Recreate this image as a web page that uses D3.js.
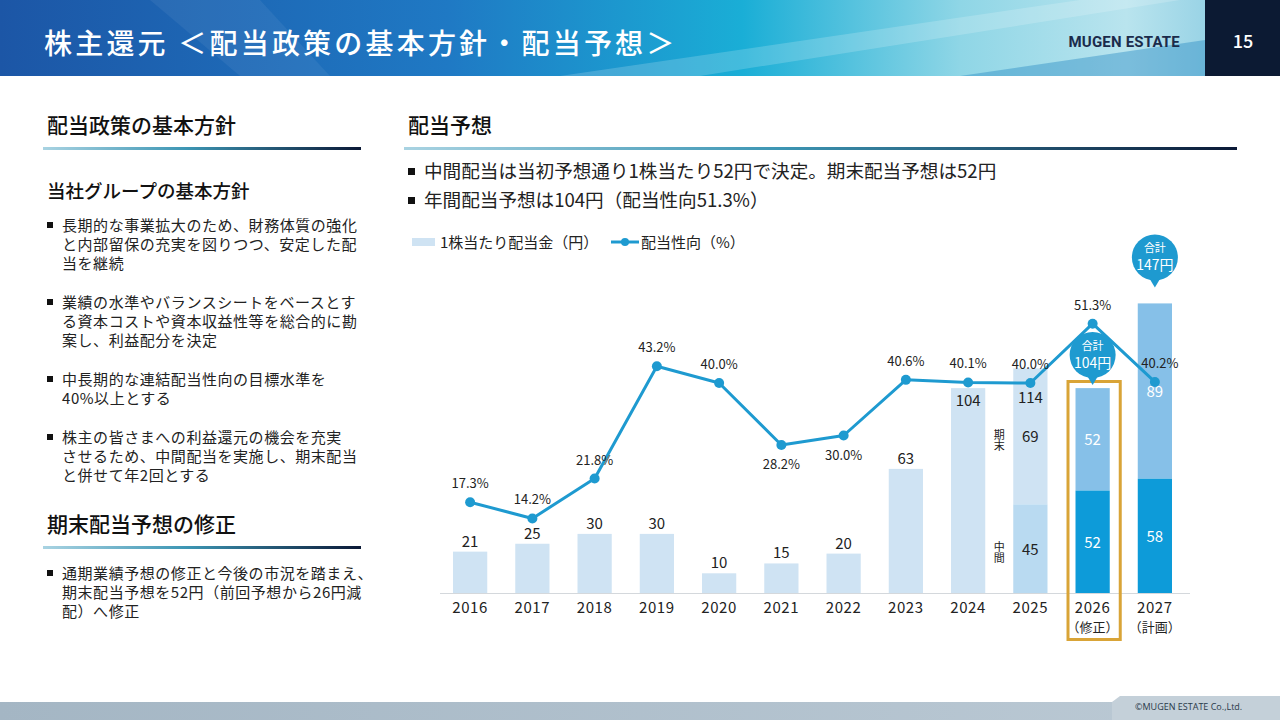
<!DOCTYPE html>
<html>
<head>
<meta charset="utf-8">
<script src="https://cdn.jsdelivr.net/npm/d3@7"></script>
<style>
  html, body { margin: 0; padding: 0; background: #fff; }
  svg { display: block; font-family: "Noto Sans CJK JP", "Noto Sans", sans-serif; }
</style>
</head>
<body>
<div id="slide"></div>
<script>
// chart data
var years = ['2016', '2017', '2018', '2019', '2020', '2021', '2022', '2023', '2024', '2025', '2026', '2027'];
var yearNotes = ['', '', '', '', '', '', '', '', '', '', '（修正）', '（計画）'];
var dividends = [21, 25, 30, 30, 10, 15, 20, 63, 104, 114, 104, 147];
var interims = [null, null, null, null, null, null, null, null, null, 45, 52, 58];
var payout = [17.3, 14.2, 21.8, 43.2, 40.0, 28.2, 30.0, 40.6, 40.1, 40.0, 51.3, 40.2];
var legendLabels = ['1株当たり配当金（円）', '配当性向（%）'];

var policyItems = [
  ['長期的な事業拡大のため、財務体質の強化', 'と内部留保の充実を図りつつ、安定した配', '当を継続'],
  ['業績の水準やバランスシートをベースとす', 'る資本コストや資本収益性等を総合的に勘', '案し、利益配分を決定'],
  ['中長期的な連結配当性向の目標水準を', '40%以上とする'],
  ['株主の皆さまへの利益還元の機会を充実', 'させるため、中間配当を実施し、期末配当', 'と併せて年2回とする']
];
var revisionItems = [['通期業績予想の修正と今後の市況を踏まえ、', '期末配当予想を52円（前回予想から26円減', '配）へ修正']];
var forecastItems = ['中間配当は当初予想通り1株当たり52円で決定。期末配当予想は52円', '年間配当予想は104円（配当性向51.3%）'];

var W = 1280, H = 720;
var svg = d3.select('#slide').append('svg').attr('width', W).attr('height', H);
var defs = svg.append('defs');

// ---- header ----
var hg = defs.append('linearGradient').attr('id', 'hdr').attr('x1', 0).attr('x2', 1).attr('y1', 0).attr('y2', 0);
hg.append('stop').attr('offset', '0%').attr('stop-color', '#1c56a6');
hg.append('stop').attr('offset', '35%').attr('stop-color', '#1f79c4');
hg.append('stop').attr('offset', '58%').attr('stop-color', '#1aaed6');
hg.append('stop').attr('offset', '75%').attr('stop-color', '#8fd6e6');
hg.append('stop').attr('offset', '88%').attr('stop-color', '#b9e4ee');
hg.append('stop').attr('offset', '100%').attr('stop-color', '#7cc4de');

var ulg = defs.append('linearGradient').attr('id', 'uline');
ulg.append('stop').attr('offset', '0%').attr('stop-color', '#a9d3e2');
ulg.append('stop').attr('offset', '45%').attr('stop-color', '#3d96b4');
ulg.append('stop').attr('offset', '100%').attr('stop-color', '#0b1936');

var ftg = defs.append('linearGradient').attr('id', 'foot');
ftg.append('stop').attr('offset', '0%').attr('stop-color', '#a4b6c4');
ftg.append('stop').attr('offset', '100%').attr('stop-color', '#bccad5');

svg.append('rect').attr('width', W).attr('height', 76).attr('fill', 'url(#hdr)');
// light streaks
svg.append('path').attr('d', 'M150,0 L260,0 L330,76 L240,76 Z').attr('fill', '#ffffff').attr('opacity', 0.06);
svg.append('path').attr('d', 'M560,76 L1080,0 L1180,0 L700,76 Z').attr('fill', '#ffffff').attr('opacity', 0.18);
svg.append('path').attr('d', 'M960,76 L1205,40 L1205,76 Z').attr('fill', '#2f8fc6').attr('opacity', 0.45);
svg.append('rect').attr('x', 1205).attr('width', 75).attr('height', 76).attr('fill', '#0c1a33');
svg.append('text').attr('x', 1243).attr('y', 48).attr('text-anchor', 'middle')
  .attr('fill', '#fff').attr('font-size', 18).attr('font-weight', 500).text('15');
svg.append('text').attr('x', 1180).attr('y', 47).attr('text-anchor', 'end')
  .attr('fill', '#1b2b4b').attr('font-size', 15).attr('font-weight', 700)
  .attr('font-family', 'Roboto, sans-serif').attr('letter-spacing', 0.2).text('MUGEN ESTATE');
svg.append('text').attr('x', 44).attr('y', 54).attr('fill', '#fff')
  .attr('font-size', 28).attr('font-weight', 500).attr('letter-spacing', 3.2)
  .text('株主還元 ＜配当政策の基本方針・配当予想＞');

// ---- footer ----
svg.append('rect').attr('y', 702).attr('width', W).attr('height', 18).attr('fill', 'url(#foot)');
svg.append('path').attr('d', 'M1112,702 L1120,696 L1280,696 L1280,720 L1112,720 Z').attr('fill', '#c4d0d9');
svg.append('text').attr('x', 1135).attr('y', 710).attr('fill', '#2a3a4a').attr('font-size', 9)
  .attr('font-family', '"Open Sans", sans-serif').text('©MUGEN ESTATE Co.,Ltd.');

// ---- section headings ----
function heading(x, y, x2, txt) {
  svg.append('text').attr('x', x).attr('y', y).attr('fill', '#111').attr('font-size', 21)
    .attr('font-weight', 500).text(txt);
  svg.append('rect').attr('x', x - 4).attr('y', y + 14).attr('width', x2 - x + 4).attr('height', 3)
    .attr('fill', 'url(#uline)');
}
heading(47, 133, 361, '配当政策の基本方針');
heading(408, 133, 1237, '配当予想');
heading(47, 532, 361, '期末配当予想の修正');

svg.append('text').attr('x', 47).attr('y', 198).attr('fill', '#111').attr('font-size', 18.5)
  .attr('font-weight', 500).text('当社グループの基本方針');

function bullets(items, x, y0, gap) {
  var y = y0;
  items.forEach(function(lines) {
    svg.append('rect').attr('x', x).attr('y', y - 9).attr('width', 6).attr('height', 6).attr('fill', '#111');
    lines.forEach(function(l, i) {
      svg.append('text').attr('x', x + 15).attr('y', y + i * 19).attr('fill', '#222')
        .attr('font-size', 15).attr('letter-spacing', 0.55).text(l);
    });
    y += lines.length * 19 + gap;
  });
}
bullets(policyItems, 47, 231, 20);
bullets(revisionItems, 47, 579, 20);

forecastItems.forEach(function(t, i) {
  var y = 178 + i * 29;
  svg.append('rect').attr('x', 408).attr('y', y - 10).attr('width', 7).attr('height', 7).attr('fill', '#111');
  svg.append('text').attr('x', 424).attr('y', y).attr('fill', '#222').attr('font-size', 18.6).text(t);
});

// ---- chart ----
var base = 593;
var x = d3.scaleBand().domain(years).range([439, 1186]).paddingInner(0.45).paddingOuter(0.225);
var yBar = d3.scaleLinear().domain([0, 150]).range([base, base - 295.5]);
var yPct = d3.scaleLinear().domain([0, 60]).range([base, base - 315]);
var bw = x.bandwidth();

var rows = years.map(function(yr, i) {
  return { year: yr, note: yearNotes[i], total: dividends[i], mid: interims[i], pct: payout[i], i: i };
});

var colPlain = '#cfe3f3', colMid25 = '#b9daf1', colEnd = '#86c0e8', colMid = '#0d9bd9';
var chart = svg.append('g');

// bars
rows.forEach(function(d) {
  var bx = x(d.year);
  if (d.mid == null) {
    chart.append('rect').attr('x', bx).attr('y', yBar(d.total)).attr('width', bw)
      .attr('height', base - yBar(d.total)).attr('fill', colPlain);
  } else {
    var forecast = d.i >= 10;
    chart.append('rect').attr('x', bx).attr('y', yBar(d.total)).attr('width', bw)
      .attr('height', yBar(d.mid) - yBar(d.total)).attr('fill', forecast ? colEnd : colPlain);
    chart.append('rect').attr('x', bx).attr('y', yBar(d.mid)).attr('width', bw)
      .attr('height', base - yBar(d.mid)).attr('fill', forecast ? colMid : colMid25);
  }
});

// baseline
chart.append('line').attr('x1', 440).attr('x2', 1190).attr('y1', base + 0.5).attr('y2', base + 0.5)
  .attr('stroke', '#d4d8dc').attr('stroke-width', 1);

// year labels
rows.forEach(function(d) {
  var cx = x(d.year) + bw / 2;
  chart.append('text').attr('x', cx).attr('y', 613).attr('text-anchor', 'middle')
    .attr('font-size', 15).attr('fill', '#222').attr('letter-spacing', 0.6).text(d.year);
  if (d.note) {
    chart.append('text').attr('x', cx).attr('y', 632).attr('text-anchor', 'middle')
      .attr('font-size', 13).attr('fill', '#222').text(d.note);
  }
});

// bar value labels
rows.forEach(function(d) {
  var cx = x(d.year) + bw / 2;
  if (d.mid == null) {
    var inside = d.total > 100;
    chart.append('text').attr('x', cx).attr('y', inside ? yBar(d.total) + 18 : yBar(d.total) - 5)
      .attr('text-anchor', 'middle').attr('font-size', 15).attr('fill', '#222').text(d.total);
  } else {
    var forecast = d.i >= 10;
    var c = forecast ? '#fff' : '#222';
    var endVal = d.total - d.mid;
    chart.append('text').attr('x', cx).attr('y', (yBar(d.total) + yBar(d.mid)) / 2 + 6)
      .attr('text-anchor', 'middle').attr('font-size', 15).attr('fill', c).text(endVal);
    chart.append('text').attr('x', cx).attr('y', (yBar(d.mid) + base) / 2 + 6)
      .attr('text-anchor', 'middle').attr('font-size', 15).attr('fill', c).text(d.mid);
    if (!forecast) {
      chart.append('text').attr('x', cx).attr('y', yBar(d.total) + 35)
        .attr('text-anchor', 'middle').attr('font-size', 15).attr('fill', '#222').text(d.total);
      // 期末 / 中間 vertical tags
      [['期末', (yBar(d.total) + yBar(d.mid)) / 2], ['中間', (yBar(d.mid) + base) / 2]].forEach(function(t) {
        chart.append('text').attr('x', x(d.year) - 14).attr('y', t[1] - 7)
          .attr('font-size', 11).attr('fill', '#222')
          .style('writing-mode', 'vertical-rl').attr('text-anchor', 'start').text(t[0]);
      });
    }
  }
});

// highlight box for 2026
chart.append('rect').attr('x', x('2026') - 7.5).attr('y', 381.5).attr('width', bw + 18).attr('height', 258)
  .attr('fill', 'none').attr('stroke', '#d9a437').attr('stroke-width', 3);

// payout line
var lineColor = '#1e9ad0';
var line = d3.line().x(function(d) { return x(d.year) + bw / 2; }).y(function(d) { return yPct(d.pct); });
chart.append('path').datum(rows).attr('d', line).attr('fill', 'none')
  .attr('stroke', lineColor).attr('stroke-width', 3).attr('stroke-linejoin', 'round');
chart.selectAll('circle.pt').data(rows).enter().append('circle').attr('class', 'pt')
  .attr('cx', function(d) { return x(d.year) + bw / 2; })
  .attr('cy', function(d) { return yPct(d.pct); })
  .attr('r', 5).attr('fill', lineColor);

var below = ['2021', '2022'];
chart.selectAll('text.pct').data(rows).enter().append('text').attr('class', 'pct')
  .attr('x', function(d) { return x(d.year) + bw / 2 + (d.year === '2027' ? 5 : 0); })
  .attr('y', function(d) { return below.indexOf(d.year) >= 0 ? yPct(d.pct) + 24 : yPct(d.pct) - 14; })
  .attr('text-anchor', 'middle').attr('font-size', 13).attr('fill', '#222')
  .text(function(d) { return d.pct.toFixed(1) + '%'; });

// total callout bubbles
function bubble(yr, lift) {
  var d = rows[years.indexOf(yr)];
  var cx = x(yr) + bw / 2, tip = yBar(d.total) - lift, cy = tip - 31, r = 23;
  chart.append('path').attr('d', 'M' + (cx - 6) + ',' + (cy + r - 3) + ' L' + cx + ',' + (tip - 1) + ' L' + (cx + 6) + ',' + (cy + r - 3) + ' Z')
    .attr('fill', lineColor);
  chart.append('circle').attr('cx', cx).attr('cy', cy).attr('r', r).attr('fill', lineColor);
  chart.append('text').attr('x', cx).attr('y', cy - 5).attr('text-anchor', 'middle')
    .attr('font-size', 11).attr('fill', '#fff').text('合計');
  chart.append('text').attr('x', cx).attr('y', cy + 13).attr('text-anchor', 'middle')
    .attr('font-size', 14).attr('fill', '#fff').text(d.total + '円');
}
bubble('2026', 2);
bubble('2027', 15);

// legend
var lg = svg.append('g');
lg.append('rect').attr('x', 412).attr('y', 238).attr('width', 23).attr('height', 8).attr('fill', colPlain);
lg.append('text').attr('x', 440).attr('y', 248).attr('font-size', 15).attr('fill', '#222').text(legendLabels[0]);
lg.append('line').attr('x1', 611).attr('x2', 639).attr('y1', 242).attr('y2', 242)
  .attr('stroke', lineColor).attr('stroke-width', 3);
lg.append('circle').attr('cx', 625).attr('cy', 242).attr('r', 4).attr('fill', lineColor);
lg.append('text').attr('x', 641).attr('y', 248).attr('font-size', 15).attr('fill', '#222').text(legendLabels[1]);
</script>
</body>
</html>
